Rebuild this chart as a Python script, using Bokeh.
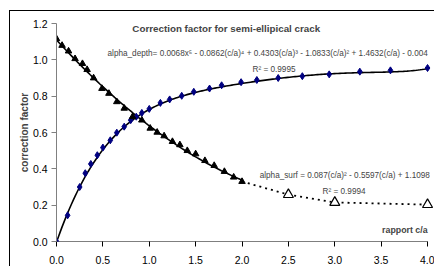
import numpy as np
from bokeh.plotting import figure
from bokeh.models import Label, FixedTicker, PrintfTickFormatter, Range1d
from bokeh.embed import file_html
from bokeh.resources import INLINE

# ---- data ----
depth_x = [0, 0.12, 0.25, 0.31, 0.37, 0.44, 0.50, 0.58, 0.65, 0.73, 0.80, 0.86, 0.92, 1.0,
           1.12, 1.22, 1.35, 1.48, 1.65, 1.78, 1.99, 2.16, 2.39, 2.65, 2.94, 3.27, 3.60, 4.0]
depth_y = [0, 0.144, 0.30, 0.376, 0.427, 0.475, 0.517, 0.557, 0.599, 0.632, 0.668, 0.687, 0.708, 0.73,
           0.763, 0.782, 0.802, 0.824, 0.842, 0.86, 0.877, 0.889, 0.90, 0.91, 0.92, 0.935, 0.942, 0.955]

surf_x = [0, 0.06, 0.13, 0.20, 0.28, 0.33, 0.40, 0.49, 0.565, 0.65, 0.73, 0.82, 0.92, 1.01,
          1.085, 1.16, 1.25, 1.33, 1.41, 1.50, 1.60, 1.70, 1.81, 1.91, 2.0]
surf_y = [1.116, 1.079, 1.048, 1.006, 0.979, 0.946, 0.90, 0.842, 0.815, 0.769, 0.733, 0.687, 0.668, 0.623,
          0.601, 0.581, 0.55, 0.532, 0.50, 0.482, 0.445, 0.418, 0.385, 0.354, 0.33]

surf_ext_x = [2.0, 2.5, 3.0, 4.0]
surf_ext_y = [0.33, 0.258, 0.215, 0.203]

# trendline coefficients printed on the chart (highest power first)
depth_coef = [0.0068, -0.0862, 0.4303, -1.0833, 1.4632, -0.004]
surf_coef = [0.087, -0.5597, 1.1098]

x_ticks = [0, 0.5, 1.0, 1.5, 2.0, 2.5, 3.0, 3.5, 4.0]
y_ticks = [0, 0.2, 0.4, 0.6, 0.8, 1.0, 1.2]

title_text = "Correction factor for semi-ellipical crack"
eq_depth = "alpha_depth= 0.0068x\u2075 - 0.0862(c/a)\u2074 + 0.4303(c/a)\u00b3 - 1.0833(c/a)\u00b2 + 1.4632(c/a) - 0.004"
r2_depth = "R\u00b2 = 0.9995"
eq_surf = "alpha_surf = 0.087(c/a)\u00b2 - 0.5597(c/a) + 1.1098"
r2_surf = "R\u00b2 = 0.9994"
x_label = "rapport c/a"
y_label = "correction factor"

FONT = "Liberation Sans"
EQ_SIZE = "8.2px"

p = figure(width=434, height=266, output_backend="svg", toolbar_location=None,
           x_range=Range1d(x_ticks[0], 4.075), y_range=Range1d(y_ticks[0], y_ticks[-1]),
           min_border_left=56, min_border_right=0, min_border_top=23, min_border_bottom=24)
p.background_fill_color = "white"
p.border_fill_color = None
p.outline_line_color = None
p.grid.visible = False

# outer chart border (top and left edges visible, the rest lies beyond the window)
p.styles = {
    "background-color": "white",
    "background-image": "linear-gradient(#000,#000), linear-gradient(#000,#000)",
    "background-position": "9px 10px, 9px 10px",
    "background-size": "1px 100%, 100% 1px",
    "background-repeat": "no-repeat",
}

# x axis line drawn from first to last tick
p.line([x_ticks[0], x_ticks[-1]], [y_ticks[0], y_ticks[0]], line_color="black", line_width=1)

# trendlines
xd = np.linspace(0, 4.0, 200)
p.line(xd, np.polyval(depth_coef, xd), line_color="black", line_width=1.6)
xs = np.linspace(0, 2.0, 100)
p.line(xs, np.polyval(surf_coef, xs), line_color="black", line_width=1.6)

# dotted extension of surface series
p.line(surf_ext_x, surf_ext_y, line_color="black", line_width=1.8, line_dash="2 4")

# markers
p.scatter(depth_x, depth_y, marker="diamond", size=7, fill_color="#000080", line_color="#000080")
p.scatter(surf_x, surf_y, marker="triangle", size=6.5, fill_color="black", line_color="black")
p.scatter(surf_ext_x[1:], surf_ext_y[1:], marker="triangle", size=10, fill_color="white",
          line_color="black", line_width=1.2)

# axes
for ax in (p.xaxis, p.yaxis):
    ax.major_label_text_font = FONT
    ax.major_label_text_font_size = "10.5px"
    ax.major_label_text_color = "black"
    ax.minor_tick_line_color = None
    ax.major_tick_in = 0
    ax.major_tick_out = 5

p.xaxis.ticker = FixedTicker(ticks=x_ticks)
p.yaxis.ticker = FixedTicker(ticks=y_ticks)
p.xaxis.formatter = PrintfTickFormatter(format="%.1f")
p.yaxis.formatter = PrintfTickFormatter(format="%.1f")
p.xaxis.axis_line_color = None
p.xaxis.major_tick_line_color = "black"
p.xaxis.major_label_standoff = 9
p.yaxis.axis_line_color = "#808080"
p.yaxis.major_tick_line_color = "#808080"
p.yaxis.major_label_standoff = 4

p.yaxis.axis_label = y_label
p.yaxis.axis_label_text_font = FONT
p.yaxis.axis_label_text_font_style = "bold"
p.yaxis.axis_label_text_font_size = "10px"
p.yaxis.axis_label_standoff = 0

# texts
p.add_layout(Label(x=1.83, y=1.173, text=title_text, text_font=FONT, text_font_style="bold",
                   text_font_size="9.8px", text_align="center", text_baseline="middle"))
p.add_layout(Label(x=0.55, y=1.036, text=eq_depth, text_font=FONT, text_font_size=EQ_SIZE,
                   text_align="left", text_baseline="middle"))
p.add_layout(Label(x=2.113, y=0.948, text=r2_depth, text_font=FONT, text_font_size=EQ_SIZE,
                   text_align="left", text_baseline="middle"))
p.add_layout(Label(x=2.19, y=0.362, text=eq_surf, text_font=FONT, text_font_size=EQ_SIZE,
                   text_align="left", text_baseline="middle"))
p.add_layout(Label(x=2.868, y=0.274, text=r2_surf, text_font=FONT, text_font_size=EQ_SIZE,
                   text_align="left", text_baseline="middle"))
p.add_layout(Label(x=x_ticks[-1], y=0.066, text=x_label, text_font=FONT, text_font_style="bold",
                   text_font_size="8.8px", text_align="right", text_baseline="middle"))

open("out.html", "w").write(file_html(p, INLINE))
